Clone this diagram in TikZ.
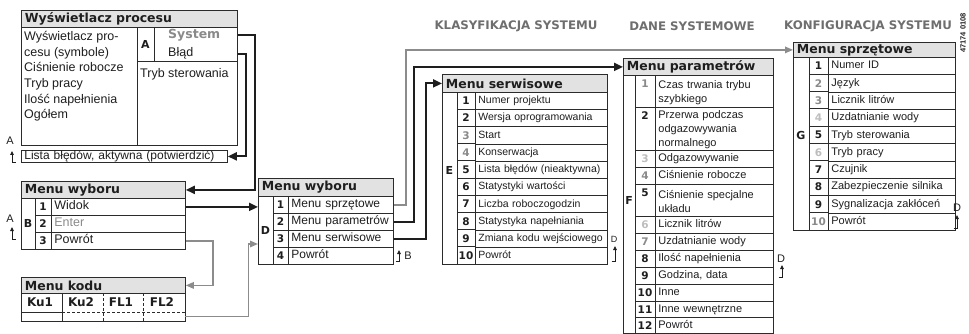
\documentclass[tikz,border=0pt]{standalone}
\usepackage{fontspec}
\setmainfont{Liberation Sans}
\newfontfamily\heavy{DejaVu Sans}
\usetikzlibrary{arrows.meta,calc}
\definecolor{boxline}{HTML}{2B2B2B}
\definecolor{titlefill}{HTML}{E2E2E2}
\definecolor{midgray}{HTML}{8A8A8A}
\definecolor{lightgray2}{HTML}{BDBDBD}
\definecolor{headgray}{HTML}{6E6E6E}
\definecolor{arrowgray}{HTML}{8C8C8C}
\definecolor{ink}{HTML}{1E1E1E}
\newcommand{\tablefont}{\fontsize{11}{14}\selectfont}
\tikzset{
  frame/.style={draw=boxline, line width=0.8pt},
  titlebox/.style={frame, fill=titlefill, anchor=north west, inner xsep=3.5pt, inner ysep=0pt, align=left, font=\heavy\bfseries\fontsize{12.5}{14}\selectfont, text=ink},
  rowcell/.style={frame, anchor=north west, inner xsep=3pt, inner ysep=0pt, align=left, text=ink, font=\tablefont},
  numtxt/.style={inner sep=0pt, font=\heavy\bfseries\fontsize{10.5}{12}\selectfont, anchor=north},
  letter/.style={inner sep=0pt, font=\heavy\bfseries\fontsize{11}{12}\selectfont, text=ink},
  plain/.style={inner sep=0pt, text=ink},
  smalllbl/.style={inner sep=0pt, text=ink, font=\fontsize{11}{12}\selectfont},
  blackarrow/.style={draw=ink, line width=2pt, -{Triangle[length=9pt,width=8pt]}},
  grayarrow/.style={draw=arrowgray, line width=1.5pt, -{Triangle[length=8pt,width=6.5pt]}},
  heading/.style={inner sep=0pt, font=\heavy\bfseries\fontsize{11.8}{12}\selectfont, text=headgray},
  marker/.style={draw=ink, line width=0.9pt, -{Triangle[length=4pt,width=3.5pt]}},
}
% #1 name, #2 x num col, #3 x text col, #4 x right, #5 y top, #6 y bottom, #7 num colour, #8 number, #9 text
\newcommand{\trow}[9]{%
  \pgfmathsetmacro{\trowT}{#5}%
  \pgfmathsetmacro{\trowB}{#6}%
  \pgfmathsetmacro{\trowW}{#4-#3-6}%
  \pgfmathsetmacro{\trowH}{\trowB-\trowT}%
  \pgfmathsetmacro{\trowM}{(#2+#3)/2}%
  \draw[frame] (#2,\trowT) rectangle (#3,\trowB);
  \node[rowcell, text width=\trowW pt, minimum height=\trowH pt] (#1) at (#3,\trowT) {\strut #9};
  \node[numtxt, text=#7] (#1n) at (\trowM,\trowT+4.8) {#8};
}
\newcommand{\markR}[3]{\draw[marker] ({#1+3.5},#2) -- (#1,#2) -- (#1,#3);}
\newcommand{\markL}[3]{\draw[marker] ({#1-3.5},#2) -- (#1,#2) -- (#1,#3);}
\begin{document}
\begin{tikzpicture}[x=1pt,y=-1pt]
\useasboundingbox (0,0) rectangle (969,334);

% headings
\node[heading] (h1) at (516,26) {KLASYFIKACJA SYSTEMU};
\node[heading] (h2) at (692,26) {DANE SYSTEMOWE};
\node[heading] (h3) at (868,26) {KONFIGURACJA SYSTEMU};
\node[rotate=90, inner sep=0pt, font=\bfseries\fontsize{7.5}{8}\selectfont, text=ink] (code) at (963,33) {47174 0108};

% ---------- Wyswietlacz procesu ----------
\node[titlebox, minimum width=216pt, text width=209pt, minimum height=17pt] (wtitle) at (21,10) {Wyświetlacz procesu};
\node[frame, anchor=north west, minimum width=116pt, minimum height=118pt, inner sep=0pt] (wleft) at (21,27) {};
\node[frame, anchor=north west, minimum width=100pt, minimum height=118pt, inner sep=0pt] (wright) at (137,27) {};
\node[frame, anchor=north west, minimum width=100pt, minimum height=34pt, inner sep=0pt] (wa) at (137,27) {};
\draw[frame] (154,27) -- (154,61);
\foreach \txt [count=\i] in {Wyświetlacz pro-, cesu (symbole), Ciśnienie robocze, Tryb pracy, Ilość napełnienia, Ogółem}
  \node[plain, anchor=base west, font=\fontsize{12.5}{15}\selectfont] (wl\i) at (24,{40.5+15.7*(\i-1)}) {\txt};
\node[letter] (wA) at (145.5,44) {A};
\node[plain, anchor=base west, font=\heavy\bfseries\fontsize{12.5}{15}\selectfont, text=midgray] (wsys) at (168,38.5) {System};
\node[plain, anchor=base west, font=\fontsize{12.5}{15}\selectfont] (wblad) at (168,57) {Błąd};
\node[plain, anchor=base west, font=\fontsize{12.5}{15}\selectfont] (wtryb) at (140,77.5) {Tryb sterowania};

% Lista bledow
\node[frame, anchor=north west, minimum width=206pt, text width=200pt, minimum height=12pt, inner xsep=3pt, inner ysep=0pt, align=left, text=ink, font=\fontsize{12}{13}\selectfont] (lista) at (21,150) {Lista błędów, aktywna (potwierdzić)};
\node[smalllbl] (lA1) at (10,141) {A};
\markR{12}{162}{151}

% ---------- Menu wyboru B ----------
\renewcommand{\tablefont}{\fontsize{12.5}{14}\selectfont}
\node[titlebox, minimum width=164pt, text width=157pt, minimum height=17pt] (btitle) at (21,181) {Menu wyboru};
\node[frame, anchor=north west, minimum width=14pt, minimum height=51pt, inner sep=0pt] (bcol) at (21,198) {};
\node[letter] (bB) at (28,223.5) {B};
\foreach \n/\c/\txt [count=\i] in {1/ink/Widok, 2/ink/\textcolor{midgray}{Enter}, 3/ink/Powrót}
  {\trow{b\i}{35}{51}{185}{198+17*(\i-1)}{198+17*\i}{\c}{\n}{\txt}}
\node[smalllbl] (lA2) at (10,219) {A};
\markR{12}{239}{227}

% ---------- Menu kodu ----------
\node[titlebox, minimum width=164pt, text width=157pt, minimum height=16pt] (ktitle) at (21,277) {Menu kodu};
\draw[frame] (21,293) rectangle (185,321);
\draw[frame] (21,312) -- (62,312);
\draw[frame, dash pattern=on 3pt off 2pt] (62,312) -- (185,312);
\draw[frame] (62,293) -- (62,321);
\draw[frame, dash pattern=on 3pt off 2pt] (103,293) -- (103,321);
\draw[frame, dash pattern=on 3pt off 2pt] (143,293) -- (143,321);
\node[plain, font=\heavy\bfseries\fontsize{12}{13}\selectfont] (ku1) at (40,302.5) {Ku1};
\node[plain, font=\heavy\bfseries\fontsize{12}{13}\selectfont] (ku2) at (81,302.5) {Ku2};
\node[plain, font=\heavy\bfseries\fontsize{12}{13}\selectfont] (fl1) at (121,302.5) {FL1};
\node[plain, font=\heavy\bfseries\fontsize{12}{13}\selectfont] (fl2) at (162,302.5) {FL2};
\node[anchor=north west, minimum width=164pt, minimum height=9pt, inner sep=0pt] (kempty) at (21,312) {};

% ---------- Menu wyboru D ----------
\renewcommand{\tablefont}{\fontsize{12}{14}\selectfont}
\node[titlebox, minimum width=135pt, text width=128pt, minimum height=18pt] (dtitle) at (258,178) {Menu wyboru};
\node[frame, anchor=north west, minimum width=15pt, minimum height=68pt, inner sep=0pt] (dcol) at (258,196) {};
\node[letter] (dD) at (265.5,230) {D};
\foreach \n/\c/\txt [count=\i] in {1/ink/Menu sprzętowe, 2/ink/Menu parametrów, 3/ink/Menu serwisowe, 4/ink/Powrót}
  {\trow{d\i}{273}{288}{393}{196+17*(\i-1)}{196+17*\i}{\c}{\n}{\txt}}
\markL{399}{261}{250}
\node[smalllbl] (lB) at (408,256) {B};

% ---------- Menu serwisowe E ----------
\renewcommand{\tablefont}{\fontsize{10.5}{14}\selectfont}
\node[titlebox, minimum width=165pt, text width=158pt, minimum height=18pt] (etitle) at (442,74) {Menu serwisowe};
\node[frame, anchor=north west, minimum width=15pt, minimum height=172pt, inner sep=0pt] (ecol) at (442,92) {};
\node[letter] (eE) at (449.5,170) {E};
\foreach \n/\c/\txt [count=\i] in {1/ink/Numer projektu, 2/ink/Wersja oprogramowania, 3/midgray/Start, 4/midgray/Konserwacja, 5/ink/Lista błędów (nieaktywna), 6/ink/Statystyki wartości, 7/ink/Liczba roboczogodzin, 8/ink/Statystyka napełniania, 9/ink/Zmiana kodu wejściowego, 10/ink/Powrót}
  {\trow{e\i}{457}{475}{607}{92+17.2*(\i-1)}{92+17.2*\i}{\c}{\n}{\txt}}
\node[inner sep=0pt, text=ink, font=\fontsize{9}{10}\selectfont] (lD1) at (614,239) {D};
\markL{615}{261}{246}

% ---------- Menu parametrow F ----------
\renewcommand{\tablefont}{\fontsize{11}{14}\selectfont}
\node[titlebox, minimum width=150pt, text width=143pt, minimum height=17pt] (ftitle) at (623,58) {Menu parametrów};
\node[frame, anchor=north west, minimum width=12pt, minimum height=258pt, inner sep=0pt] (fcol) at (623,75) {};
\node[letter] (fF) at (629,200) {F};
\trow{f1}{635}{655}{773}{75}{107}{midgray}{1}{Czas trwania trybu\\szybkiego}
\trow{f2}{635}{655}{773}{107}{150}{ink}{2}{Przerwa podczas\\odgazowywania\\normalnego}
\trow{f3}{635}{655}{773}{150}{167}{lightgray2}{3}{Odgazowywanie}
\trow{f4}{635}{655}{773}{167}{184}{midgray}{4}{Ciśnienie robocze}
\trow{f5}{635}{655}{773}{184}{216}{ink}{5}{Ciśnienie specjalne\\układu}
\trow{f6}{635}{655}{773}{216}{233}{lightgray2}{6}{Licznik litrów}
\trow{f7}{635}{655}{773}{233}{250}{midgray}{7}{Uzdatnianie wody}
\trow{f8}{635}{655}{773}{250}{267}{ink}{8}{Ilość napełnienia}
\trow{f9}{635}{655}{773}{267}{284}{ink}{9}{Godzina, data}
\trow{f10}{635}{655}{773}{284}{301}{ink}{10}{Inne}
\trow{f11}{635}{655}{773}{301}{317}{ink}{11}{Inne wewnętrzne}
\trow{f12}{635}{655}{773}{317}{333}{ink}{12}{Powrót}
\node[smalllbl] (lD2) at (781,259) {D};
\markL{782}{277}{265}

% ---------- Menu sprzetowe G ----------
\node[titlebox, minimum width=162pt, text width=155pt, minimum height=15pt] (gtitle) at (793,42) {Menu sprzętowe};
\node[frame, anchor=north west, minimum width=16pt, minimum height=173pt, inner sep=0pt] (gcol) at (793,57) {};
\node[letter] (gG) at (801,135) {G};
\foreach \n/\c/\txt [count=\i] in {1/ink/Numer ID, 2/midgray/Język, 3/midgray/Licznik litrów, 4/lightgray2/Uzdatnianie wody, 5/ink/Tryb sterowania, 6/lightgray2/Tryb pracy, 7/ink/Czujnik, 8/ink/Zabezpieczenie silnika, 9/ink/Sygnalizacja zakłóceń, 10/midgray/Powrót}
  {\trow{g\i}{809}{828}{955}{57+17.3*(\i-1)}{57+17.3*\i}{\c}{\n}{\txt}}
\node[smalllbl] (lD3) at (957,208) {D};
\markL{957}{228}{215}

% ---------- connectors ----------
\coordinate (dIn2) at (258,244);
\draw[blackarrow] (wsys.center -| wa.east) -- ++(17,0) |- (btitle.east);
\draw[blackarrow] (wblad.center -| wa.east) -- ++(8,0) |- (lista.east);
\draw[blackarrow] (b1.east) -- (b1.east -| dcol.west);
\draw[grayarrow] (b3.east) -- ++(27,0) |- (ktitle.east);
\draw[grayarrow] (kempty.east) -- ++(63,0) |- (dIn2);
\draw[grayarrow] (d1.east) -- ++(12,0) |- (gtitle.west);
\draw[blackarrow] (d2.east) -- ++(20,0) |- (ftitle.west);
\draw[blackarrow] (d3.east) -- ++(32,0) |- (etitle.west);
\end{tikzpicture}
\end{document}
